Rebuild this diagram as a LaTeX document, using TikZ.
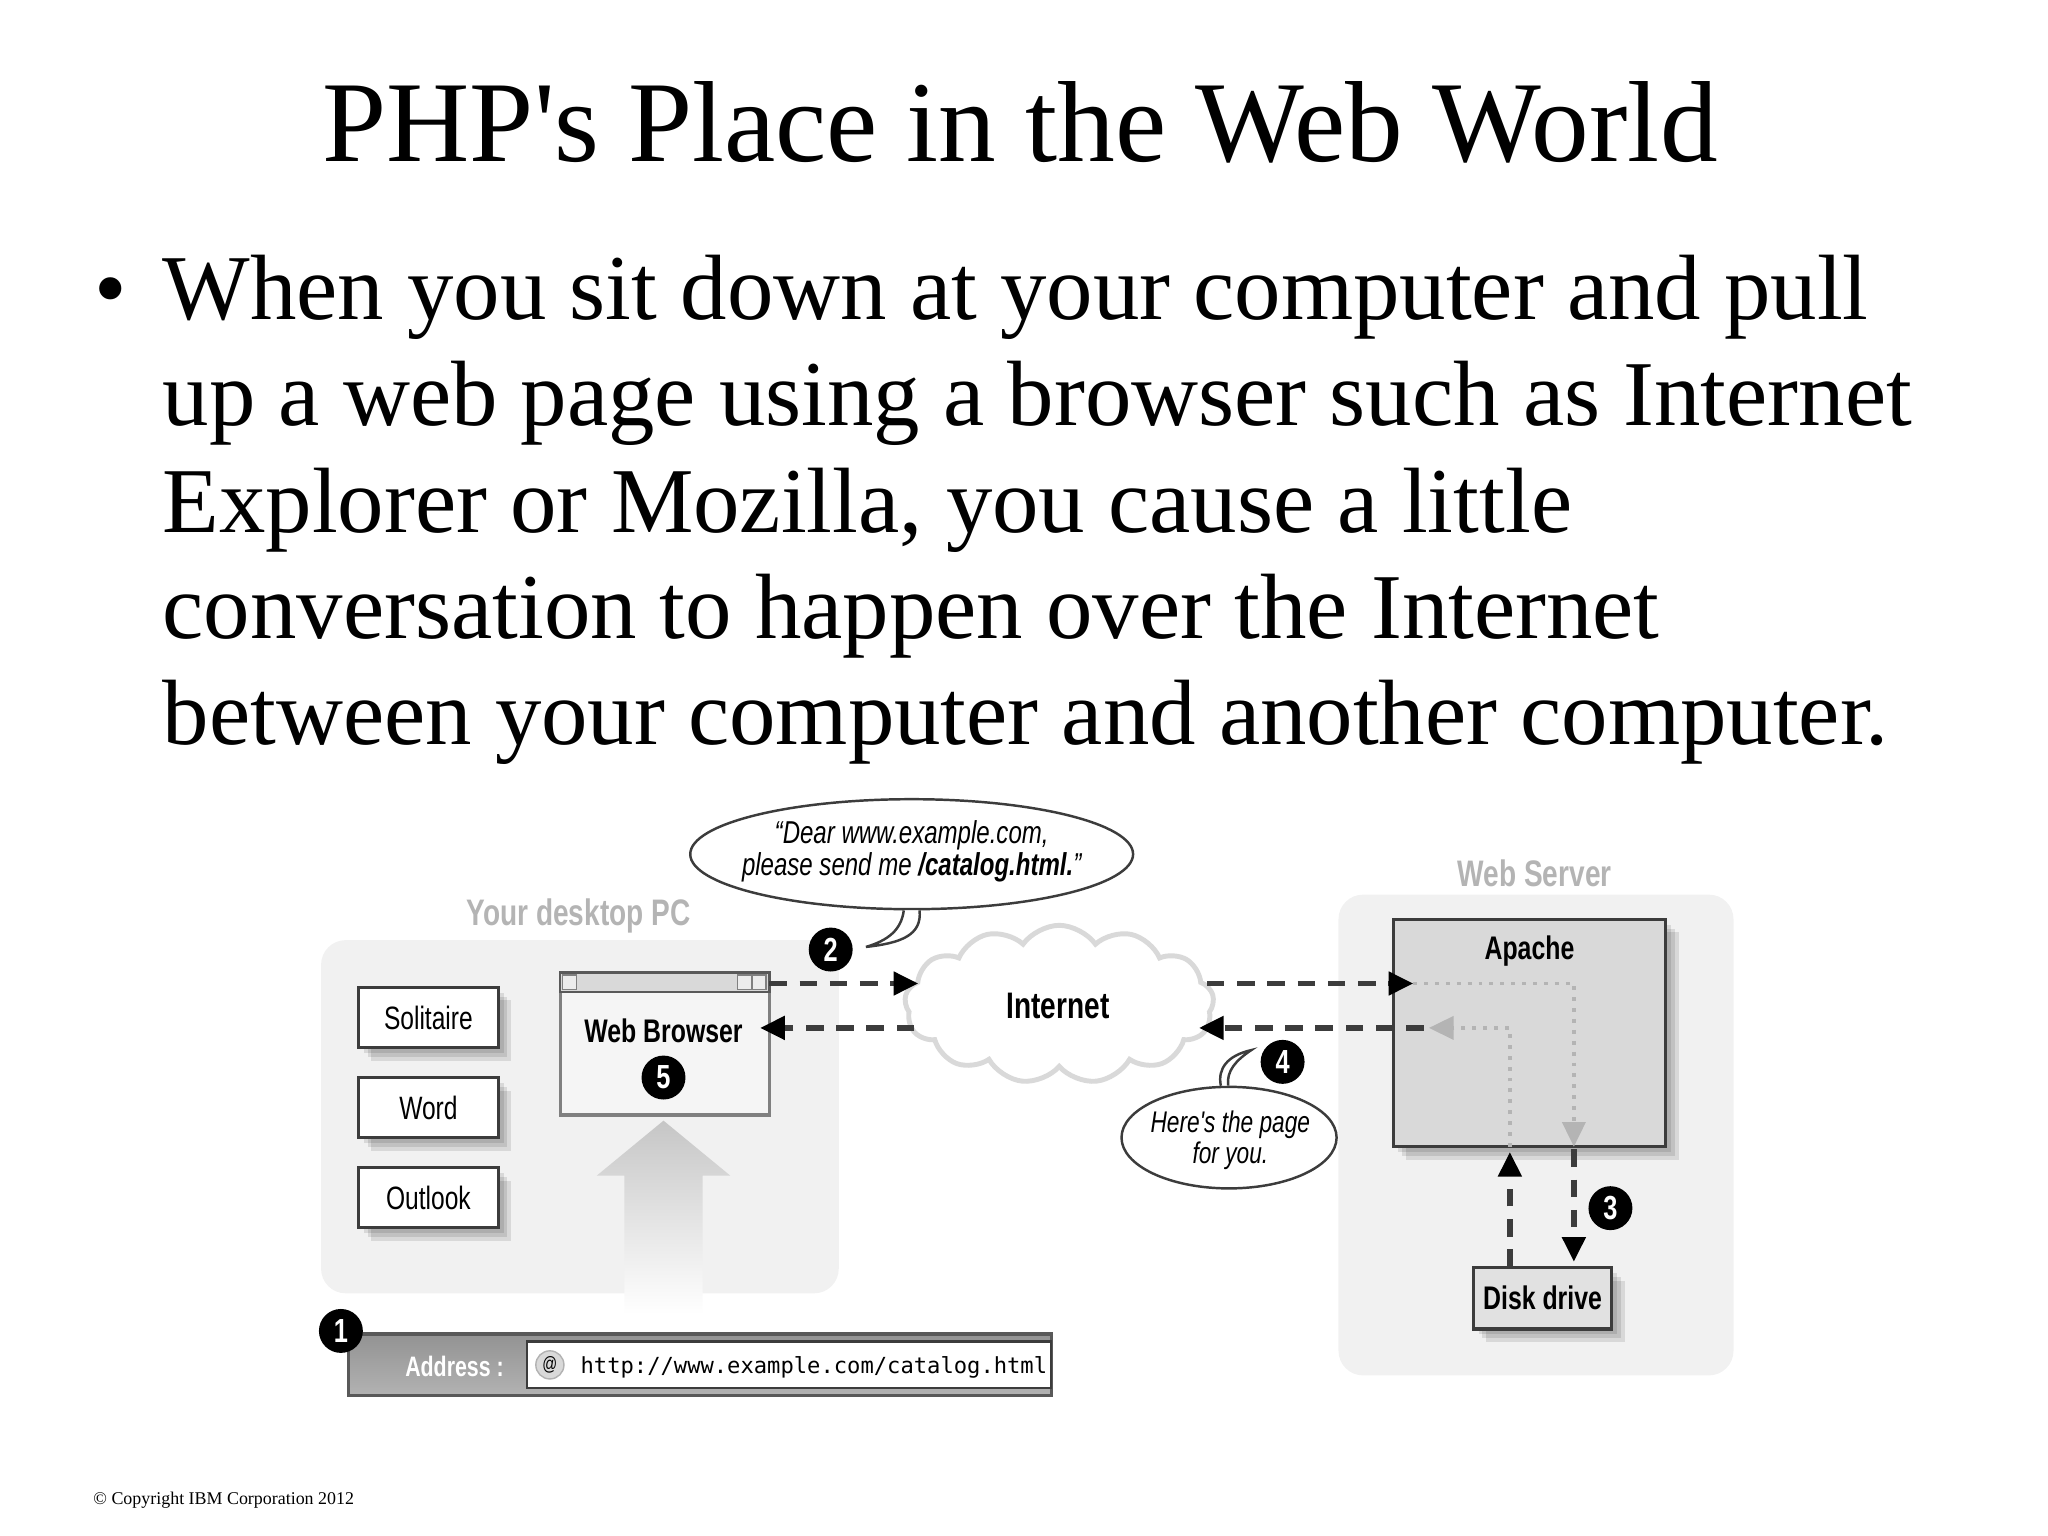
\documentclass[tikz,border=0pt]{standalone}
\usepackage{fontspec}
\usepackage{tikz}
\usetikzlibrary{arrows.meta, shadows, shapes.geometric, shapes.symbols}
\setmainfont{Liberation Serif}
\newfontfamily\titlefont{Liberation Serif}
\newfontfamily\figfont[FakeStretch=0.76]{Liberation Sans}
\newfontfamily\urlfont{DejaVu Sans Mono}
\definecolor{panelgray}{HTML}{F1F1F1}
\definecolor{labelgray}{HTML}{B4B4B4}
\definecolor{boxgray}{HTML}{D9D9D9}
\definecolor{linegray}{HTML}{3C3C3C}

\begin{document}
\begin{tikzpicture}[x=0.130612mm, y=-0.130612mm, >={Triangle[length=7pt,width=6.5pt]}]

\tikzstyle{every node}=[inner sep=0pt, font=\figfont\fontsize{9.2}{10}\selectfont]
\tikzstyle{panel}=[rectangle, rounded corners=7pt, fill=panelgray]
\tikzstyle{grouplabel}=[text=labelgray, font=\figfont\bfseries\fontsize{10.5}{11}\selectfont]
\tikzstyle{softshadow}=[drop shadow={shadow xshift=1.5pt, shadow yshift=-1.5pt, fill=black, opacity=.1}, drop shadow={shadow xshift=2.6pt, shadow yshift=-2.6pt, fill=black, opacity=.1}, drop shadow={shadow xshift=3.7pt, shadow yshift=-3.7pt, fill=black, opacity=.1}]
\tikzstyle{box}=[rectangle, draw=linegray, line width=0.9pt, fill=white, softshadow]
\tikzstyle{boldtext}=[font=\figfont\bfseries\fontsize{9.3}{10}\selectfont]
\tikzstyle{badge}=[circle, fill=black, text=white, minimum size=12.5pt, font=\figfont\bfseries\fontsize{9.5}{10}\selectfont]
\tikzstyle{bubble}=[ellipse, draw=linegray, line width=0.7pt, fill=white]
\tikzstyle{bubbletext}=[align=center, font=\figfont\itshape\fontsize{9}{9}\selectfont]
\tikzstyle{winbtn}=[rectangle, draw=gray, line width=0.4pt, fill=gray!15, minimum size=4pt]
\tikzstyle{msg}=[-{Triangle[length=7pt,width=6.5pt,black]}, linegray, line width=1.5pt, dash pattern=on 5pt off 3.6pt]
\tikzstyle{faint}=[->, labelgray, line width=1.1pt, dotted]

\useasboundingbox (0,0) rectangle (1568,1176);

% slide text
\node[anchor=base, font=\titlefont\fontsize{32.8}{40}\selectfont] (title) at (781,124) {PHP's Place in the Web World};
\node[anchor=base west, font=\fontsize{26.4}{30.2}\selectfont] (bullet) at (72,245) {•};
\node[anchor=north west, align=left, font=\fontsize{26.4}{30.2}\selectfont] (body) at (124,195) {When you sit down at your computer and pull\\
up a web page using a browser such as Internet\\
Explorer or Mozilla, you cause a little\\
conversation to happen over the Internet\\
between your computer and another computer.};
\node[anchor=base west, font=\fontsize{5.1}{6}\selectfont] (copyright) at (71,1152) {© Copyright IBM Corporation 2012};

% the two machines
\node[panel, minimum width=147.3pt, minimum height=100.5pt] (desktop) at (444,855) {};
\node[panel, minimum width=112.4pt, minimum height=136.8pt] (server) at (1176,869) {};
\node[grouplabel] (desktoplabel) at (443,701) {Your desktop PC};
\node[grouplabel] (serverlabel) at (1175,669) {Web Server};

\node[box, minimum width=39.8pt, minimum height=17.1pt] (solitaire) at (328,779) {Solitaire};
\node[box, minimum width=39.8pt, minimum height=17.1pt] (word) at (328,848) {Word};
\node[box, minimum width=39.8pt, minimum height=17.1pt] (outlook) at (328,917) {Outlook};

% big arrow up to the browser
\path[top color=gray!45, bottom color=white, middle color=gray!22] (508,858) -- (559,900) -- (538,900) -- (538,1006) -- (478,1006) -- (478,900) -- (457,900) -- cycle;

\node[rectangle, draw=gray, line width=1pt, fill=gray!8, minimum width=59.5pt, minimum height=40.5pt] (browser) at (509,799) {};
\node[rectangle, draw=gray!70!black, line width=0.7pt, fill=boxgray, minimum width=59.5pt, minimum height=5.6pt] (titlebar) at (509,752) {};
\node[winbtn] (btnleft) at (436,752) {};
\node[winbtn] (btnmid) at (570,752) {};
\node[winbtn] (btnright) at (581,752) {};
\node[boldtext] (browsertext) at (508,789) {Web Browser};
\node[badge] (five) at (508,825) {5};

\node[cloud, cloud puffs=13, cloud puff arc=110, aspect=2, draw=gray!30, line width=1.4pt, fill=white, minimum width=88pt, minimum height=45pt] (internet) at (811,769) {};
\node[boldtext, font=\figfont\bfseries\fontsize{10.5}{11}\selectfont] (internettext) at (810,770) {Internet};

\node[box, fill=boxgray, minimum width=77.6pt, minimum height=64.7pt] (apache) at (1171,791) {};
\node[boldtext] (apachetext) at (1171,728) {Apache};
\node[box, fill=boxgray!80, minimum width=39.4pt, minimum height=17.5pt, boldtext] (disk) at (1181,994) {Disk drive};

% where the dashed lines start and stop
\coordinate (browserout) at (589,753);
\coordinate (cloudin) at (703,753);
\coordinate (cloudback) at (700,787);
\coordinate (browserin) at (582,787);
\coordinate (cloudout) at (924,753);
\coordinate (apachein) at (1082,753);
\coordinate (apacheout) at (1090,787);
\coordinate (cloudret) at (918,787);
\coordinate (fileout) at (1205,880);
\coordinate (diskin) at (1205,966);
\coordinate (diskout) at (1156,970);
\coordinate (filein) at (1156,882);
\coordinate (turnin) at (1205,753);
\coordinate (turnout) at (1156,787);
\coordinate (faintdown) at (1205,878);
\coordinate (faintup) at (1156,878);
\coordinate (faintleft) at (1094,787);

\draw[faint] (apachein) -- (turnin) -- (faintdown);
\draw[faint] (faintup) -- (turnout) -- (faintleft);
\draw[msg] (browserout) -- (cloudin);
\draw[msg] (cloudback) -- (browserin);
\draw[msg] (cloudout) -- (apachein);
\draw[msg] (apacheout) -- (cloudret);
\draw[msg] (fileout) -- (diskin);
\draw[msg] (diskout) -- (filein);

% speech bubbles
\node[bubble, minimum width=126pt, minimum height=31.3pt] (asking) at (698,654) {};
\coordinate (askingtip) at (663,725);
\filldraw[draw=linegray, line width=0.7pt, fill=white] (asking.262) .. controls (690,712) and (680,720) .. (askingtip) .. controls (690,722) and (706,716) .. (asking.278);
\node[bubbletext] (askingtext) at (698,652) {“Dear www.example.com,\\please send me \textbf{/catalog.html.}”};
\node[bubble, minimum width=61.2pt, minimum height=28.9pt] (reply) at (941,871) {};
\coordinate (replytip) at (958,804);
\filldraw[draw=linegray, line width=0.7pt, fill=white] (reply.99) .. controls (932,818) and (940,808) .. (replytip) .. controls (946,812) and (939,820) .. (reply.91);
\node[bubbletext, font=\figfont\itshape\fontsize{8.5}{9}\selectfont] (replytext) at (942,873) {Here's the page\\for you.};

\node[badge] (two) at (636,727) {2};
\node[badge] (three) at (1233,925) {3};
\node[badge] (four) at (982,813) {4};

% address bar
\node[rectangle, draw=gray!70!black, line width=1pt, top color=gray!85, bottom color=gray!60, minimum width=200pt, minimum height=17.5pt] (addressbar) at (536,1045) {};
\node[rectangle, draw=linegray, line width=0.6pt, fill=white, minimum width=149pt, minimum height=13.3pt] (addressfield) at (604,1045) {};
\node[text=white, font=\figfont\bfseries\fontsize{8}{8}\selectfont] (addresstext) at (348,1046) {Address :};
\node[circle, fill=gray!30, draw=gray!60, minimum size=8pt, font=\figfont\fontsize{5.5}{6}\selectfont] (globe) at (421,1045) {@};
\node[anchor=west, font=\urlfont\fontsize{6.3}{7}\selectfont] (url) at (444,1047) {http://www.example.com/catalog.html};
\node[badge] (one) at (261,1019) {1};

\end{tikzpicture}
\end{document}
